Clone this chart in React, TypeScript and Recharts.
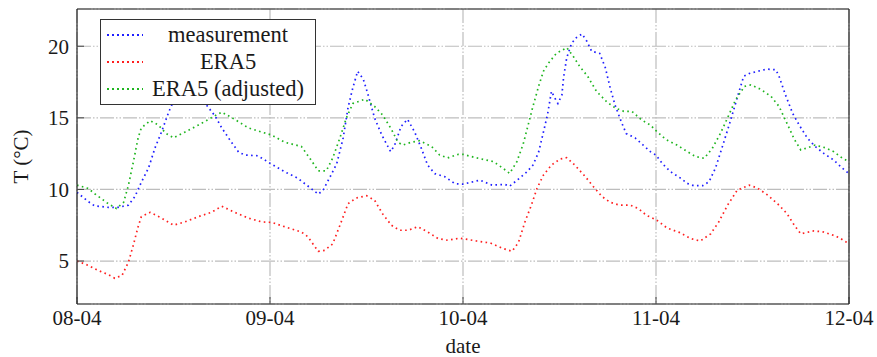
import React from 'react';
import { LineChart, Line, XAxis, YAxis, CartesianGrid, Legend, Label } from 'recharts';

// hours since 08-04 00:00
const measHours = [0, 1.4, 2.2, 3.9, 5.1, 6.4, 7.2, 8.0, 8.9, 9.7, 10.5, 11.4, 12.5, 14.0, 15.0, 16.1, 17.2, 18.0, 19.2, 20.1, 20.9, 22.5, 23.8, 25.8, 27.4, 29.1, 30.0, 30.6, 31.4, 32.3, 33.1, 33.7, 34.3, 34.9, 35.6, 36.2, 37.0, 37.9, 39.0, 39.5, 40.3, 41.1, 42.0, 42.8, 43.6, 44.5, 45.7, 47.0, 48.0, 50.1, 51.6, 53.2, 53.8, 54.5, 55.9, 56.7, 57.4, 58.0, 58.5, 59.0, 59.4, 59.8, 60.3, 60.5, 60.9, 61.5, 62.1, 62.8, 63.4, 64.0, 65.0, 65.7, 66.3, 66.9, 67.7, 68.3, 69.4, 70.4, 71.3, 72.0, 72.8, 73.8, 75.1, 75.9, 76.7, 77.8, 78.6, 79.4, 80.2, 81.1, 82.1, 82.9, 83.6, 85.0, 85.8, 86.9, 87.3, 88.1, 89.0, 89.8, 90.8, 91.8, 92.9, 94.1, 95.2, 96.0];
const measTemps = [9.8, 9.15, 8.85, 8.75, 8.75, 8.9, 9.5, 10.5, 11.5, 12.9, 14.0, 15.4, 16.8, 17.5, 17.0, 15.9, 15.1, 14.3, 13.3, 12.6, 12.4, 12.35, 11.9, 11.24, 10.8, 10.07, 9.67, 9.95, 10.8, 11.8, 13.6, 15.7, 17.1, 18.25, 17.7, 16.6, 15.0, 13.8, 12.64, 13.1, 14.4, 14.9, 14.0, 12.9, 11.7, 11.1, 10.9, 10.4, 10.37, 10.65, 10.3, 10.35, 10.23, 10.54, 11.2, 11.7, 12.6, 14.0, 15.2, 16.85, 16.4, 16.0, 16.6, 17.8, 19.2, 20.2, 20.6, 20.86, 20.35, 19.65, 19.5, 18.5, 17.1, 15.9, 14.7, 13.9, 13.6, 13.1, 12.64, 12.4, 11.8, 11.24, 10.77, 10.42, 10.26, 10.26, 10.54, 11.5, 12.9, 14.5, 16.4, 17.9, 18.1, 18.3, 18.4, 18.36, 17.9, 16.6, 15.3, 14.5, 13.6, 13.0, 12.5, 12.05, 11.47, 11.1];

const era5Hours = [0, 1.4, 2.6, 3.9, 4.7, 5.6, 6.4, 7.0, 7.6, 8.0, 9.1, 10.5, 12.0, 13.4, 15.1, 16.7, 18.0, 19.6, 21.3, 23.0, 24.2, 25.8, 27.9, 28.7, 30.0, 30.8, 31.8, 32.7, 33.7, 34.7, 36.0, 37.0, 38.0, 39.1, 40.1, 41.2, 42.4, 43.6, 44.9, 46.1, 47.6, 49.7, 51.4, 53.0, 54.1, 54.9, 55.7, 56.5, 57.2, 58.0, 59.0, 60.1, 60.9, 61.9, 63.2, 64.2, 65.3, 66.3, 67.5, 68.8, 69.8, 70.8, 72.1, 73.4, 74.9, 76.3, 77.5, 78.8, 79.8, 80.9, 82.1, 83.6, 84.6, 85.9, 87.3, 88.3, 89.2, 90.0, 91.6, 92.7, 93.7, 94.8, 96.0];
const era5Temps = [5.0, 4.7, 4.35, 4.05, 3.8, 4.0, 4.93, 6.1, 7.4, 8.1, 8.4, 8.0, 7.5, 7.73, 8.1, 8.4, 8.83, 8.4, 8.0, 7.73, 7.7, 7.4, 7.03, 6.7, 5.68, 5.75, 6.2, 7.5, 9.0, 9.4, 9.56, 9.25, 8.3, 7.5, 7.15, 7.15, 7.4, 7.03, 6.57, 6.45, 6.6, 6.4, 6.26, 5.87, 5.68, 6.3, 7.73, 8.9, 10.07, 11.0, 11.7, 12.13, 12.22, 11.7, 10.9, 10.2, 9.5, 9.1, 8.9, 8.9, 8.67, 8.2, 7.85, 7.3, 7.0, 6.57, 6.4, 6.9, 7.73, 8.9, 9.95, 10.3, 10.1, 9.6, 8.9, 8.3, 7.5, 6.9, 7.1, 7.05, 6.87, 6.63, 6.2];

const adjHours = [0, 1.4, 2.2, 3.9, 4.9, 5.8, 6.4, 7.0, 7.6, 8.0, 9.1, 10.1, 11.1, 12.0, 13.4, 15.1, 16.7, 18.0, 19.6, 21.3, 23.0, 24.2, 25.8, 27.9, 29.1, 30.0, 31.0, 31.8, 32.7, 33.5, 34.3, 35.8, 37.0, 38.0, 39.1, 39.9, 40.5, 41.6, 42.6, 44.1, 45.1, 46.1, 47.4, 48.0, 49.7, 51.8, 53.0, 53.8, 54.7, 55.5, 56.1, 56.7, 57.4, 58.0, 58.6, 59.6, 60.9, 61.7, 62.5, 63.5, 64.6, 65.9, 66.9, 68.0, 69.0, 70.2, 71.3, 72.0, 73.2, 74.6, 75.9, 76.9, 78.0, 79.0, 80.0, 80.9, 81.9, 83.0, 83.8, 85.0, 86.3, 87.3, 88.3, 89.2, 90.0, 90.8, 91.8, 93.1, 94.1, 95.2, 96.0];
const adjTemps = [10.3, 10.07, 9.7, 9.0, 8.67, 9.1, 10.3, 11.9, 13.6, 14.3, 14.8, 14.5, 13.9, 13.6, 14.0, 14.5, 15.0, 15.4, 14.9, 14.3, 14.0, 13.8, 13.3, 13.0, 12.06, 11.3, 11.3, 12.2, 13.6, 15.0, 16.0, 16.3, 15.8, 15.2, 14.2, 13.3, 13.1, 13.3, 13.4, 13.0, 12.4, 12.2, 12.45, 12.45, 12.2, 11.94, 11.47, 11.12, 11.94, 13.2, 14.5, 15.8, 17.2, 18.25, 18.8, 19.5, 19.9, 19.3, 18.6, 17.9, 16.85, 16.1, 15.7, 15.45, 15.45, 14.86, 14.5, 14.1, 13.5, 13.1, 12.64, 12.3, 12.17, 12.87, 13.9, 15.0, 16.26, 17.2, 17.3, 17.0, 16.5, 15.8, 14.6, 13.5, 12.76, 12.9, 13.1, 12.9, 12.64, 12.17, 11.94];

const seriesNames = ['measurement', 'ERA5', 'ERA5 (adjusted)'];
const xTicks = [0, 24, 48, 72, 96];
const xTickLabels = ['08-04', '09-04', '10-04', '11-04', '12-04'];
const yTicks = [5, 10, 15, 20];

const toPoints = (hours: number[], temps: number[]) => hours.map((h, i) => ({ h, t: temps[i] }));

const FONT = '"Liberation Serif", "DejaVu Serif", serif';
const TEXT = '#1a1a1a';
const DOTS = '1.6 3.4';

const LegendBox = ({ payload }: any) => {
    const items = [...(payload || [])].sort((a: any, b: any) => seriesNames.indexOf(a.value) - seriesNames.indexOf(b.value));
    return (
        <div style={{ background: '#fff', border: '1.5px solid #333', width: 214, height: 83, boxSizing: 'content-box', fontFamily: FONT, fontSize: 22.5, color: TEXT, paddingTop: 1 }}>
            {items.map((p: any) => (
                <div key={p.value} style={{ display: 'flex', alignItems: 'center', height: 27 }}>
                    <svg width={48} height={10} style={{ flex: 'none' }}>
                        <line x1={6} y1={5} x2={42} y2={5} stroke={p.color} strokeWidth={2.2} strokeDasharray="2 3" />
                    </svg>
                    <span style={{ width: 158, textAlign: 'center', lineHeight: '27px', whiteSpace: 'nowrap' }}>{p.value}</span>
                </div>
            ))}
        </div>
    );
};

export default function App() {
    return (
        <div style={{ position: 'absolute', left: 0, top: 0, background: '#fff' }}>
            <LineChart width={877} height={357} margin={{ top: 8, right: 27, left: 0, bottom: 0 }} style={{ fontFamily: FONT }}>
                <CartesianGrid stroke="#bdbdbd" strokeWidth={1.2} strokeDasharray="14 2 1.5 2 1.5 2" xAxisId="b" yAxisId="l" />
                <XAxis
                    xAxisId="b"
                    dataKey="h"
                    type="number"
                    domain={[0, 96]}
                    ticks={xTicks}
                    tickFormatter={(v: number) => xTickLabels[xTicks.indexOf(v)]}
                    height={53}
                    tickSize={-7}
                    tickMargin={13}
                    tick={{ fontSize: 21, fill: TEXT }}
                    tickLine={{ stroke: '#444' }}
                    axisLine={{ stroke: '#222', strokeWidth: 1.2 }}
                    allowDataOverflow
                >
                    <Label value="date" position="insideBottom" offset={4} style={{ fontSize: 21, fill: TEXT }} />
                </XAxis>
                <XAxis
                    xAxisId="t"
                    orientation="top"
                    type="number"
                    domain={[0, 96]}
                    ticks={xTicks}
                    height={1}
                    tickSize={-7}
                    tick={false}
                    tickLine={{ stroke: '#444' }}
                    axisLine={{ stroke: '#222', strokeWidth: 1.2 }}
                    allowDataOverflow
                />
                <YAxis
                    yAxisId="l"
                    type="number"
                    domain={[2, 22.6]}
                    ticks={yTicks}
                    width={77}
                    tickSize={-7}
                    tickMargin={15}
                    tick={{ fontSize: 21, fill: TEXT }}
                    tickLine={{ stroke: '#444' }}
                    axisLine={{ stroke: '#222', strokeWidth: 1.2 }}
                    allowDataOverflow
                >
                    <Label
                        content={({ viewBox }: any) => (
                            <text
                                x={21}
                                y={viewBox.y + viewBox.height / 2}
                                transform={`rotate(-90, 21, ${viewBox.y + viewBox.height / 2})`}
                                textAnchor="middle"
                                dominantBaseline="central"
                                style={{ fontSize: 21, fill: TEXT, fontFamily: FONT }}
                            >
                                T (°C)
                            </text>
                        )}
                    />
                </YAxis>
                <YAxis
                    yAxisId="r"
                    orientation="right"
                    type="number"
                    domain={[2, 22.6]}
                    ticks={yTicks}
                    width={1}
                    tickSize={-7}
                    tick={false}
                    tickLine={{ stroke: '#444' }}
                    axisLine={{ stroke: '#222', strokeWidth: 1.2 }}
                    allowDataOverflow
                />
                <Legend
                    layout="vertical"
                    align="center"
                    verticalAlign="middle"
                    content={<LegendBox />}
                    wrapperStyle={{ left: 100, top: 19, width: 'auto', height: 'auto' }}
                />
                <Line
                    xAxisId="b"
                    yAxisId="l"
                    name={seriesNames[0]}
                    data={toPoints(measHours, measTemps)}
                    dataKey="t"
                    type="linear"
                    stroke="#1f1fff"
                    strokeWidth={1.7}
                    strokeDasharray={DOTS}
                    dot={false}
                    isAnimationActive={false}
                />
                <Line
                    xAxisId="b"
                    yAxisId="l"
                    name={seriesNames[1]}
                    data={toPoints(era5Hours, era5Temps)}
                    dataKey="t"
                    type="linear"
                    stroke="#ff1f1f"
                    strokeWidth={1.7}
                    strokeDasharray={DOTS}
                    dot={false}
                    isAnimationActive={false}
                />
                <Line
                    xAxisId="b"
                    yAxisId="l"
                    name={seriesNames[2]}
                    data={toPoints(adjHours, adjTemps)}
                    dataKey="t"
                    type="linear"
                    stroke="#1fb51f"
                    strokeWidth={1.7}
                    strokeDasharray={DOTS}
                    dot={false}
                    isAnimationActive={false}
                />
            </LineChart>
        </div>
    );
}
